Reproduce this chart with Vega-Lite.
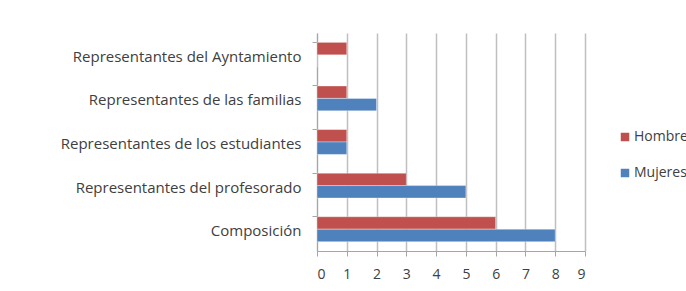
{
  "$schema": "https://vega.github.io/schema/vega-lite/v6.json",
  "width": 268,
  "height": 218,
  "autosize": {"type": "none"},
  "padding": {"left": 317, "top": 33, "right": 101, "bottom": 40},
  "background": "white",
  "config": {
    "view": {"stroke": null},
    "font": "Open Sans",
    "axis": {"labelFont": "Open Sans", "labelFontSize": 14, "labelColor": "#404040", "labelLimit": 400},
    "legend": {"labelFont": "Open Sans", "labelFontSize": 14, "labelColor": "#404040", "labelLimit": 100}
  },
  "data": {
    "values": [
      {"categoria": "Representantes del Ayntamiento", "sexo": "Hombres", "valor": 1},
      {"categoria": "Representantes del Ayntamiento", "sexo": "Mujeres", "valor": 0},
      {"categoria": "Representantes de las familias", "sexo": "Hombres", "valor": 1},
      {"categoria": "Representantes de las familias", "sexo": "Mujeres", "valor": 2},
      {"categoria": "Representantes de los estudiantes", "sexo": "Hombres", "valor": 1},
      {"categoria": "Representantes de los estudiantes", "sexo": "Mujeres", "valor": 1},
      {"categoria": "Representantes del profesorado", "sexo": "Hombres", "valor": 3},
      {"categoria": "Representantes del profesorado", "sexo": "Mujeres", "valor": 5},
      {"categoria": "Composición", "sexo": "Hombres", "valor": 6},
      {"categoria": "Composición", "sexo": "Mujeres", "valor": 8}
    ]
  },
  "mark": {"type": "bar", "stroke": "white", "strokeOpacity": 0.35, "strokeWidth": 1},
  "encoding": {
    "y": {
      "field": "categoria",
      "type": "nominal",
      "sort": ["Representantes del Ayntamiento", "Representantes de las familias", "Representantes de los estudiantes", "Representantes del profesorado", "Composición"],
      "scale": {"paddingInner": 0.43, "paddingOuter": 0.215},
      "axis": {"title": null, "bandPosition": 0, "tickSize": 5, "labelPadding": 11, "labelOffset": 2, "labelFontSize": 15, "domainColor": "#A6A6A6", "tickColor": "#A6A6A6", "grid": false}
    },
    "x": {
      "field": "valor",
      "type": "quantitative",
      "scale": {"domain": [0, 9], "nice": false},
      "axis": {"title": null, "values": [0, 1, 2, 3, 4, 5, 6, 7, 8, 9], "grid": true, "gridColor": "#BFBFBF", "gridWidth": 1.5, "tickSize": 5, "labelPadding": 11, "domainColor": "#A6A6A6", "tickColor": "#A6A6A6", "labelFontSize": 14}
    },
    "yOffset": {"field": "sexo", "sort": ["Hombres", "Mujeres"]},
    "color": {
      "field": "sexo",
      "type": "nominal",
      "scale": {"domain": ["Hombres", "Mujeres"], "range": ["#C0504D", "#4F81BD"]},
      "legend": {"title": null, "orient": "none", "legendX": 301, "legendY": 97, "symbolType": "square", "symbolSize": 72, "symbolStrokeWidth": 0, "rowPadding": 22, "labelOffset": 2}
    }
  }
}
